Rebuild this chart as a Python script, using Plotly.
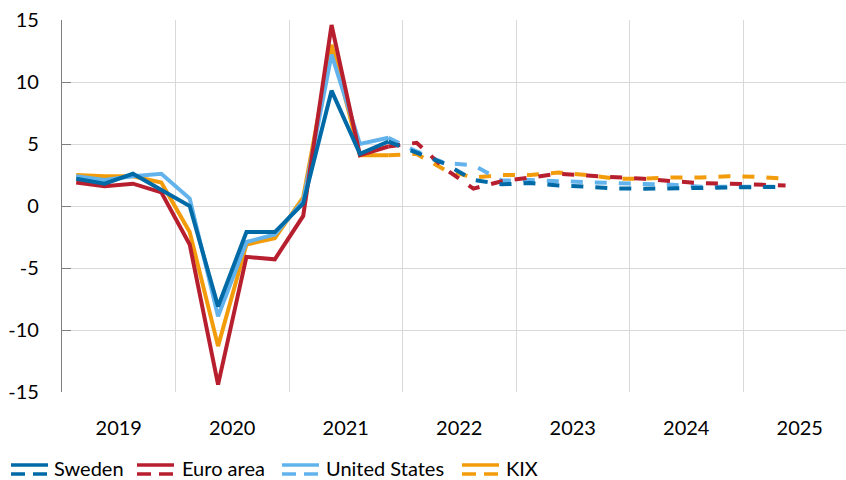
import plotly.graph_objects as go

# Quarterly GDP growth, annual percentage change: outcomes and forecasts
outcome_quarters = ["2019Q1", "2019Q2", "2019Q3", "2019Q4",
                    "2020Q1", "2020Q2", "2020Q3", "2020Q4",
                    "2021Q1", "2021Q2", "2021Q3", "2021Q4"]
forecast_quarters = ["2021Q4",
                     "2022Q1", "2022Q2", "2022Q3", "2022Q4",
                     "2023Q1", "2023Q2", "2023Q3", "2023Q4",
                     "2024Q1", "2024Q2", "2024Q3", "2024Q4",
                     "2025Q1", "2025Q2"]

sweden_outcome = [2.2, 1.8, 2.6, 1.3, 0.0, -8.1, -2.1, -2.1, 0.2, 9.3, 4.2, 5.2]
euro_outcome = [1.9, 1.6, 1.8, 1.1, -3.1, -14.4, -4.1, -4.3, -0.8, 14.6, 4.1, 4.8]
us_outcome = [2.4, 2.1, 2.4, 2.6, 0.6, -8.9, -2.9, -2.3, 0.4, 12.2, 5.0, 5.5]
kix_outcome = [2.5, 2.4, 2.4, 1.9, -2.1, -11.3, -3.1, -2.6, 0.7, 13.0, 4.1, 4.1]

sweden_forecast = [5.2, 4.3, 3.4, 2.1, 1.75, 1.85, 1.65, 1.55, 1.42, 1.4, 1.4, 1.45, 1.5, 1.5, 1.55]
euro_forecast = [4.8, 5.1, 3.0, 1.4, 2.0, 2.3, 2.6, 2.45, 2.35, 2.2, 2.0, 1.85, 1.8, 1.75, 1.65]
us_forecast = [5.5, 4.4, 3.45, 3.3, 2.05, 2.1, 2.0, 1.9, 1.8, 1.77, 1.72, 1.55, 1.55, 1.55, 1.55]
kix_forecast = [4.1, 4.2, 2.9, 2.3, 2.5, 2.5, 2.7, 2.5, 2.2, 2.2, 2.3, 2.3, 2.4, 2.35, 2.2]

year_labels = ["2019", "2020", "2021", "2022", "2023", "2024", "2025"]
y_ticks = [-15, -10, -5, 0, 5, 10, 15]

series = [
    # name, colour, outcome, forecast (drawn bottom to top)
    ("KIX", "#F39C0B", kix_outcome, kix_forecast),
    ("United States", "#62B3EC", us_outcome, us_forecast),
    ("Euro area", "#B81F2E", euro_outcome, euro_forecast),
    ("Sweden", "#006AA7", sweden_outcome, sweden_forecast),
]
legend_order = ["Sweden", "Euro area", "United States", "KIX"]


def quarter_pos(label):
    """Place a quarter at the middle of its slot inside the year."""
    year = int(label[:4])
    q = int(label[-1])
    return year + (q - 0.5) / 4


FONT = "Lato, 'Open Sans', sans-serif"
W, H = 846, 480
ML, MR, MT, MB = 62, 0, 20, 88
PW, PH = W - ML - MR, H - MT - MB
first_year = int(year_labels[0])
x_end = first_year + PW / 113.5

fig = go.Figure()
for name, color, outcome, forecast in series:
    fig.add_trace(go.Scatter(
        x=[quarter_pos(q) for q in outcome_quarters], y=outcome,
        mode="lines", line=dict(color=color, width=4),
        name=name, showlegend=False, hoverinfo="skip"))
    fig.add_trace(go.Scatter(
        x=[quarter_pos(q) for q in forecast_quarters], y=forecast,
        mode="lines", line=dict(color=color, width=4, dash="12px,12px"),
        name=name + " forecast", showlegend=False, hoverinfo="skip"))

fig.update_layout(
    width=W, height=H,
    margin=dict(l=ML, r=MR, t=MT, b=MB, pad=0),
    paper_bgcolor="white", plot_bgcolor="white",
    font=dict(family=FONT, color="#000000"),
    showlegend=False,
)

fig.update_xaxes(
    range=[first_year, x_end],
    tickmode="array",
    tickvals=[int(y) + 0.5 for y in year_labels],
    ticktext=year_labels,
    tickfont=dict(size=20, family=FONT, color="#000000"),
    ticks="", showgrid=False, zeroline=False, showline=False,
    ticklabelstandoff=22,
    minor=dict(tickmode="array",
               tickvals=[int(y) for y in year_labels[1:]],
               showgrid=True, gridcolor="#D9D9D9", gridwidth=1.3, ticks=""),
)
fig.update_yaxes(
    range=[-15, 15],
    tickmode="array", tickvals=y_ticks,
    ticktext=[str(v) for v in y_ticks],
    tickfont=dict(size=20, family=FONT, color="#000000"),
    showgrid=True, gridcolor="#D9D9D9", gridwidth=1.3,
    zeroline=False,
    showline=True, linecolor="#7F7F7F", linewidth=1.3,
    ticks="inside", ticklen=9, tickcolor="#7F7F7F", tickwidth=1.3,
    ticklabelstandoff=18,
)

# Legend: a solid (outcome) and a dashed (forecast) swatch per series
colors = {name: color for name, color, _, _ in series}
swatch_x = [11, 137, 282, 462]
text_x = [53, 181, 325, 505]


def px_x(v):
    return (v - ML) / PW


def px_y(v):
    return (H - MB - v) / PH


for name, sx, tx in zip(legend_order, swatch_x, text_x):
    c = colors[name]
    fig.add_shape(type="line", xref="paper", yref="paper",
                  x0=px_x(sx), x1=px_x(sx + 37), y0=px_y(465), y1=px_y(465),
                  line=dict(color=c, width=3.5))
    fig.add_shape(type="line", xref="paper", yref="paper",
                  x0=px_x(sx), x1=px_x(sx + 37), y0=px_y(474), y1=px_y(474),
                  line=dict(color=c, width=3.5, dash="14px,8px"))
    fig.add_annotation(text=name, xref="paper", yref="paper",
                       x=px_x(tx), y=px_y(468), xanchor="left", yanchor="middle",
                       showarrow=False, borderpad=0,
                       font=dict(size=20, family=FONT, color="#000000"))

fig.write_html("out.html")
